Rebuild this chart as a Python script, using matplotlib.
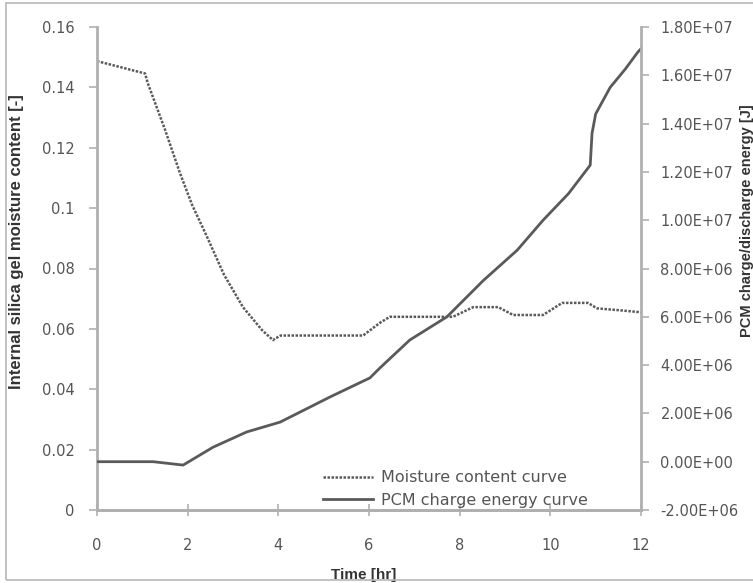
import matplotlib
matplotlib.use("Agg")
import matplotlib.pyplot as plt
from matplotlib.patches import Rectangle

# moisture content of the silica gel (left axis)
moist_t = [0.0, 1.06, 1.12, 1.5, 1.83, 2.1, 2.43, 2.8, 3.22, 3.64, 3.88, 4.05,
           5.87, 6.24, 6.46, 7.85, 8.3, 8.85, 9.18, 9.84, 10.26, 10.83, 11.03,
           11.5, 12.0]
moist_v = [0.1487, 0.1446, 0.1414, 0.126, 0.1116, 0.101, 0.0904, 0.078, 0.0672,
           0.0596, 0.0563, 0.0578, 0.0578, 0.0620, 0.0640, 0.0640, 0.0672,
           0.0672, 0.0646, 0.0646, 0.0686, 0.0686, 0.0668, 0.0662, 0.0655]

# PCM charge energy (right axis), J
pcm_t = [0.0, 1.24, 1.9, 2.56, 3.3, 4.04, 5.14, 6.02, 6.24, 6.9, 7.72, 8.52,
         9.27, 9.84, 10.4, 10.88, 10.92, 11.0, 11.32, 11.65, 11.93, 12.0]
pcm_e = [0.0, 0.0, -0.14e6, 0.6e6, 1.23e6, 1.64e6, 2.68e6, 3.47e6, 3.88e6,
         5.04e6, 6.0e6, 7.5e6, 8.76e6, 10.0e6, 11.1e6, 12.28e6, 13.6e6, 14.4e6,
         15.5e6, 16.25e6, 16.96e6, 17.1e6]

x_ticks = [0, 2, 4, 6, 8, 10, 12]
left_ticks = [0, 0.02, 0.04, 0.06, 0.08, 0.1, 0.12, 0.14, 0.16]
left_labels = ["0", "0.02", "0.04", "0.06", "0.08", "0.1", "0.12", "0.14", "0.16"]
right_ticks = [-2e6, 0, 2e6, 4e6, 6e6, 8e6, 1e7, 1.2e7, 1.4e7, 1.6e7, 1.8e7]
right_labels = ["-2.00E+06", "0.00E+00", "2.00E+06", "4.00E+06", "6.00E+06",
                "8.00E+06", "1.00E+07", "1.20E+07", "1.40E+07", "1.60E+07",
                "1.80E+07"]

plt.rcParams["font.family"] = ["DejaVu Sans"]

W, H = 753, 583
fig = plt.figure(figsize=(W / 100, H / 100), dpi=100)
fig.patches.append(Rectangle((6 / W, 3 / H), 800 / W, 577 / H, transform=fig.transFigure,
                             fill=False, edgecolor="#b8b8b8", linewidth=1.2))

ax = fig.add_axes([97 / W, 1 - 510 / H, (641 - 97) / W, (510 - 27) / H])
ax2 = ax.twinx()

spine_col = "#b0b0b0"
text_col = "#555555"
line_col = "#5a5a5a"

ax.plot(moist_t, moist_v, color=line_col, lw=1.8, linestyle=(0, (1, 0.6)),
        label="Moisture content curve")
ax2.plot(pcm_t, pcm_e, color=line_col, lw=2.0, label="PCM charge energy curve")

ax.set_xlim(0, 12)
ax.set_ylim(0, 0.16)
ax2.set_ylim(-2e6, 1.8e7)

ax.set_xticks(x_ticks)
ax.set_xticklabels([str(t) for t in x_ticks])
ax.set_yticks(left_ticks)
ax.set_yticklabels(left_labels)
ax2.set_yticks(right_ticks)
ax2.set_yticklabels(right_labels)

for a in (ax, ax2):
    a.spines["top"].set_visible(False)
    for s in ("left", "right", "bottom"):
        a.spines[s].set_color(spine_col)
        a.spines[s].set_linewidth(2)
    a.tick_params(colors=spine_col, labelcolor=text_col, labelsize=10.5,
                  width=1.2, length=6, pad=10)
ax2.spines["left"].set_visible(False)
ax.spines["right"].set_visible(False)
ax2.tick_params(axis="y", pad=8)
ax.tick_params(axis="x", direction="inout", length=8, pad=16)

lab_font = dict(fontweight="bold", color="#333333",
                family=["Liberation Sans", "DejaVu Sans"])
ax.set_xlabel("Time [hr]", fontsize=11, **lab_font)
ax.xaxis.set_label_coords(0.491, -0.12)
ax.set_ylabel("Internal silica gel moisture content [-]", fontsize=12, **lab_font)
ax.yaxis.set_label_coords(-0.135, 0.555)
ax2.set_ylabel("PCM charge/discharge energy [J]", fontsize=10.5, **lab_font)
ax2.yaxis.set_label_coords(1.182, 0.6)

h1, l1 = ax.get_legend_handles_labels()
h2, l2 = ax2.get_legend_handles_labels()
ax2.legend(h1 + h2, l1 + l2, loc="lower left", bbox_to_anchor=(0.395, -0.018),
           frameon=False, fontsize=11.5, labelcolor=text_col, handlelength=3.1,
           handletextpad=0.5, labelspacing=0.45, borderpad=0.2)

fig.savefig("out.png", dpi=100)
